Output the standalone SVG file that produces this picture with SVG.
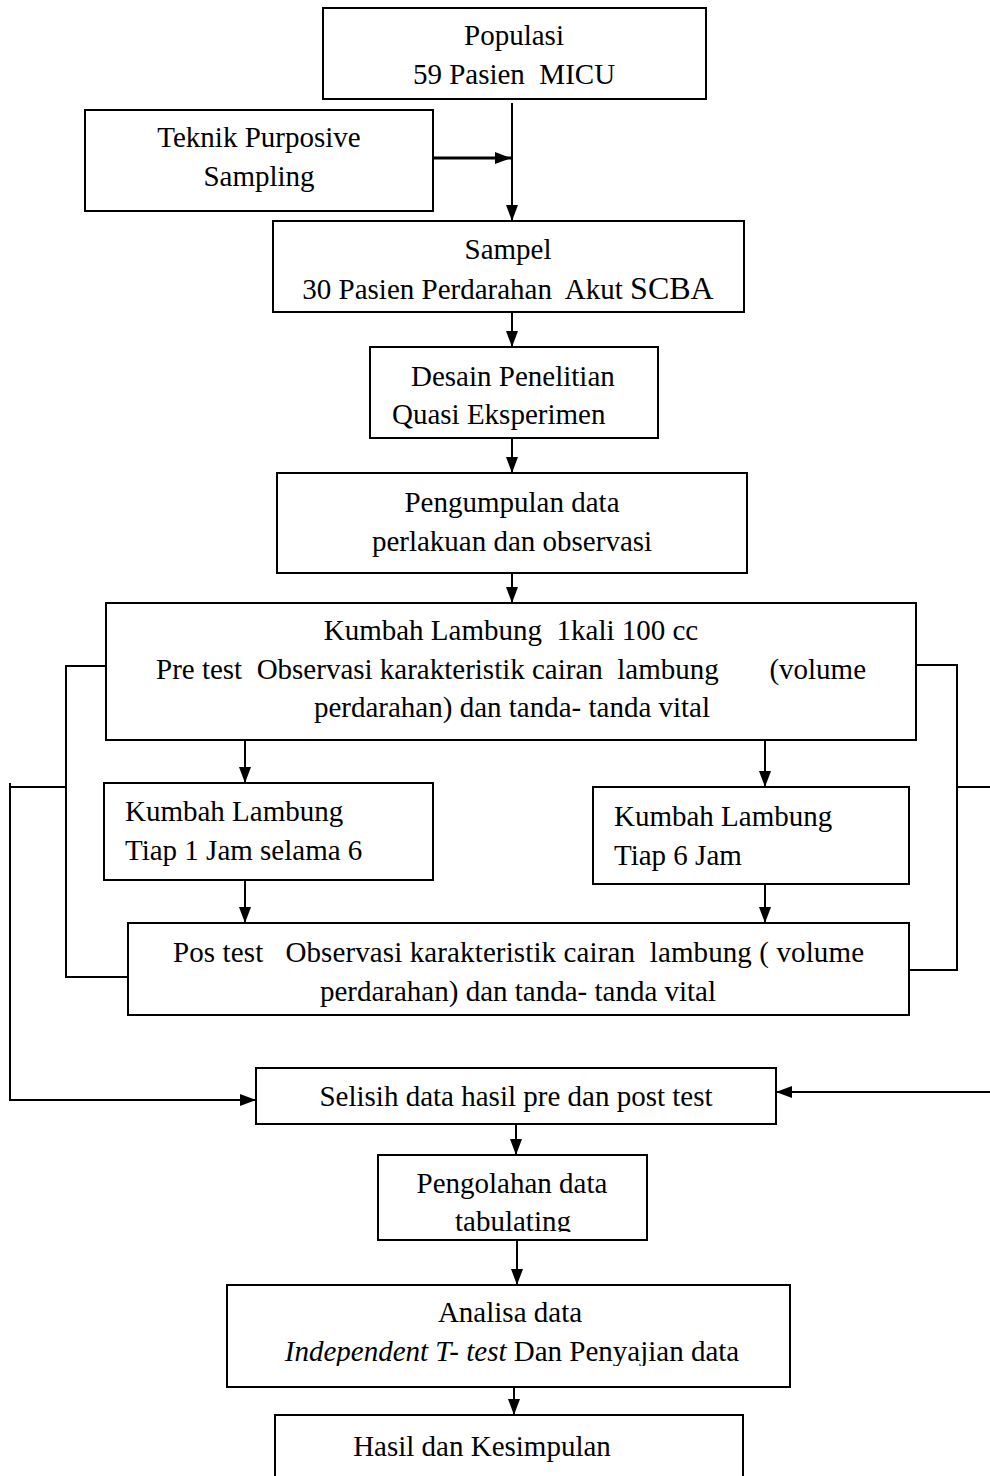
<svg xmlns="http://www.w3.org/2000/svg" width="990" height="1476" viewBox="0 0 990 1476">
<style>
.box{fill:#fff;stroke:#000;stroke-width:2}
.t{font-family:"Liberation Serif","Times New Roman",serif;font-size:29px;fill:#000;white-space:pre}
.m{text-anchor:middle}
.c{fill:none;stroke:#000;stroke-width:2}
</style>
<defs>
<marker id="ah" markerUnits="userSpaceOnUse" markerWidth="16" markerHeight="14" viewBox="0 0 16 14" refX="16" refY="7" orient="auto">
<path d="M0,1 L16,7 L0,13 Z" fill="#000"/>
</marker>
<clipPath id="clipPeng"><rect x="378" y="1155" width="269" height="77"/></clipPath>
<clipPath id="clipAna"><rect x="227" y="1285" width="563" height="81"/></clipPath>
</defs>
<rect width="990" height="1476" fill="#fff"/>
<g id="connectors">
<path class="c" d="M512,103 V221" marker-end="url(#ah)"/>
<path class="c" d="M433,158 H511" style="stroke-width:3" marker-end="url(#ah)"/>
<path class="c" d="M512,312 V347" marker-end="url(#ah)"/>
<path class="c" d="M512,438 V473" marker-end="url(#ah)"/>
<path class="c" d="M512,573 V603" marker-end="url(#ah)"/>
<path class="c" d="M245,740 V783" marker-end="url(#ah)"/>
<path class="c" d="M765,740 V787" marker-end="url(#ah)"/>
<path class="c" d="M245,880 V923" marker-end="url(#ah)"/>
<path class="c" d="M765,884 V923" marker-end="url(#ah)"/>
<path class="c" d="M106,666 H66 V977 H128"/>
<path class="c" d="M916,665 H957 V970 H909"/>
<path class="c" d="M66,787 H10 V1100 H256" marker-end="url(#ah)"/>
<path class="c" d="M10,783 V790"/>
<path class="c" d="M957,787 H990"/>
<path class="c" d="M990,1092 H776" marker-end="url(#ah)"/>
<path class="c" d="M516,1124 V1155" marker-end="url(#ah)"/>
<path class="c" d="M517,1240 V1285" marker-end="url(#ah)"/>
<path class="c" d="M514,1387 V1415" marker-end="url(#ah)"/>
</g>
<g id="populasi">
<rect class="box" x="323" y="8" width="383" height="91"/>
<text class="t m" x="514" y="45">Populasi</text>
<text class="t m" x="514" y="84">59 Pasien  MICU</text>
</g>
<g id="teknik">
<rect class="box" x="85" y="110" width="348" height="101"/>
<text class="t m" x="259" y="147">Teknik Purposive</text>
<text class="t m" x="259" y="186">Sampling</text>
</g>
<g id="sampel">
<rect class="box" x="273" y="221" width="471" height="91"/>
<text class="t m" x="508" y="259">Sampel</text>
<text class="t m" x="508" y="299">30 Pasien Perdarahan  Akut <tspan style="font-size:32px">SCBA</tspan></text>
</g>
<g id="desain">
<rect class="box" x="370" y="347" width="288" height="91"/>
<text class="t" x="411" y="386">Desain Penelitian</text>
<text class="t" x="392" y="424">Quasi Eksperimen</text>
</g>
<g id="pengumpulan">
<rect class="box" x="277" y="473" width="470" height="100"/>
<text class="t m" x="512" y="512">Pengumpulan data</text>
<text class="t m" x="512" y="551">perlakuan dan observasi</text>
</g>
<g id="kumbah-pre">
<rect class="box" x="106" y="603" width="810" height="137"/>
<text class="t m" x="511" y="640">Kumbah Lambung  1kali 100 cc</text>
<text class="t" x="156" y="679" textLength="710" lengthAdjust="spacing">Pre test  Observasi karakteristik cairan  lambung       (volume</text>
<text class="t m" x="512" y="717">perdarahan) dan tanda- tanda vital</text>
</g>
<g id="kumbah-1jam">
<rect class="box" x="104" y="783" width="329" height="97"/>
<text class="t" x="125" y="821">Kumbah Lambung</text>
<text class="t" x="125" y="860">Tiap 1 Jam selama 6</text>
</g>
<g id="kumbah-6jam">
<rect class="box" x="593" y="787" width="316" height="97"/>
<text class="t" x="614" y="826">Kumbah Lambung</text>
<text class="t" x="614" y="865">Tiap 6 Jam</text>
</g>
<g id="pos-test">
<rect class="box" x="128" y="923" width="781" height="92"/>
<text class="t" x="173" y="962" textLength="691" lengthAdjust="spacing">Pos test   Observasi karakteristik cairan  lambung ( volume</text>
<text class="t m" x="518" y="1001">perdarahan) dan tanda- tanda vital</text>
</g>
<g id="selisih">
<rect class="box" x="256" y="1068" width="520" height="56"/>
<text class="t m" x="516" y="1106">Selisih data hasil pre dan post test</text>
</g>
<g id="pengolahan">
<rect class="box" x="378" y="1155" width="269" height="85"/>
<g clip-path="url(#clipPeng)">
<text class="t m" x="512" y="1193">Pengolahan data</text>
<text class="t m" x="513" y="1231">tabulating</text>
</g>
</g>
<g id="analisa">
<rect class="box" x="227" y="1285" width="563" height="102"/>
<g clip-path="url(#clipAna)">
<text class="t m" x="510" y="1322">Analisa data</text>
<text class="t m" x="512" y="1361"><tspan font-style="italic">Independent T- test</tspan> Dan Penyajian data</text>
</g>
</g>
<g id="hasil">
<rect class="box" x="275" y="1415" width="468" height="70"/>
<text class="t m" x="482" y="1456">Hasil dan Kesimpulan</text>
</g>
</svg>
